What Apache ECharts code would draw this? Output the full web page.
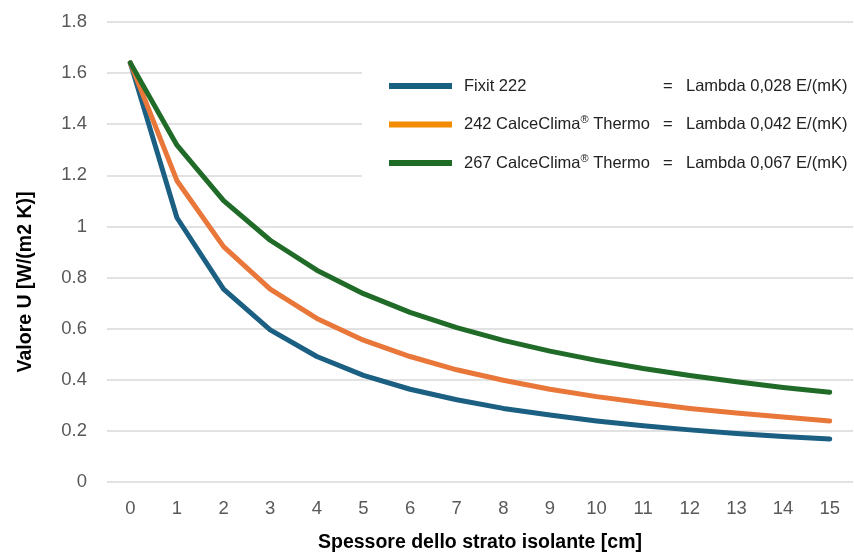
<!DOCTYPE html>
<html>
<head>
<meta charset="utf-8">
<script src="https://cdn.jsdelivr.net/npm/echarts@6/dist/echarts.min.js"></script>
<style>
html,body{margin:0;padding:0;background:#fff;overflow:hidden;}
#chart{width:854px;height:558px;}
</style>
</head>
<body>
<div id="chart"></div>
<script>
const categories = ['0','1','2','3','4','5','6','7','8','9','10','11','12','13','14','15'];
const fixit222 = [1.64, 1.034, 0.755, 0.595, 0.491, 0.417, 0.363, 0.322, 0.288, 0.262, 0.239, 0.220, 0.204, 0.190, 0.178, 0.168];
const calce242 = [1.64, 1.179, 0.921, 0.755, 0.640, 0.555, 0.491, 0.439, 0.398, 0.363, 0.334, 0.310, 0.288, 0.270, 0.254, 0.239];
const calce267 = [1.64, 1.318, 1.101, 0.946, 0.829, 0.737, 0.664, 0.604, 0.554, 0.512, 0.476, 0.444, 0.417, 0.392, 0.370, 0.351];
const seriesNames = ['Fixit 222', '242 CalceClima® Thermo', '267 CalceClima® Thermo'];
const lambdaLabels = ['Lambda 0,028 E/(mK)', 'Lambda 0,042 E/(mK)', 'Lambda 0,067 E/(mK)'];
const yTitle = 'Valore U [W/(m2 K)]';
const xTitle = 'Spessore dello strato isolante [cm]';

const lineColors = ['#1B5F82', '#E9773A', '#1F6B27'];
const legendColors = ['#18607F', '#F28C00', '#1E6B25'];
const FONT = '"Liberation Sans", Arial, Helvetica, sans-serif';
const LEG_SIZE = 16.5;
const SUP_SIZE = 11;

const cv = document.createElement('canvas');
const ctx = cv.getContext('2d');
function tw(t, size) { ctx.font = size + 'px ' + FONT; return ctx.measureText(t).width; }

const NAME_COL = 199;
const rich = {
  s: { width: 7, fontSize: LEG_SIZE, fontFamily: FONT },
  n: { fontSize: LEG_SIZE, fontFamily: FONT, color: '#222', lineHeight: 20 },
  r: { fontSize: SUP_SIZE, fontFamily: FONT, color: '#222', verticalAlign: 'top', lineHeight: 20, padding: [0, 0, 6, 0] },
  e: { width: 23, fontSize: LEG_SIZE, fontFamily: FONT, color: '#222', lineHeight: 20 },
  l: { fontSize: LEG_SIZE, fontFamily: FONT, color: '#222', lineHeight: 20 }
};
const legendText = seriesNames.map(function (nm, i) {
  const parts = nm.split('®');
  if (parts.length === 1) {
    rich['t' + i] = { width: NAME_COL, fontSize: LEG_SIZE, fontFamily: FONT, color: '#222', lineHeight: 20 };
    return '{s| }{t' + i + '|' + nm + '}{e|=}{l|' + lambdaLabels[i] + '}';
  }
  const w = NAME_COL - tw(parts[0], LEG_SIZE) - tw('®', SUP_SIZE);
  rich['t' + i] = { width: w, fontSize: LEG_SIZE, fontFamily: FONT, color: '#222', lineHeight: 20 };
  return '{s| }{n|' + parts[0] + '}{r|®}{t' + i + '|' + parts[1] + '}{e|=}{l|' + lambdaLabels[i] + '}';
});

const dataSets = [fixit222, calce242, calce267];

const chart = echarts.init(document.getElementById('chart'), null, { renderer: 'canvas' });
chart.setOption({
  animation: false,
  backgroundColor: '#fff',
  textStyle: { fontFamily: FONT },
  grid: { left: 107, right: 1, top: 22, bottom: 71, containLabel: false },
  legend: {
    orient: 'vertical',
    left: 362,
    top: 50,
    padding: [26, 10, 26, 27],
    itemGap: 18.5,
    itemWidth: 63,
    itemHeight: 6,
    icon: 'rect',
    backgroundColor: '#fff',
    selectedMode: false,
    data: seriesNames.map(function (nm, i) {
      return { name: nm, itemStyle: { color: legendColors[i], borderWidth: 0 } };
    }),
    formatter: function (name) { return legendText[seriesNames.indexOf(name)]; },
    textStyle: { fontSize: LEG_SIZE, fontFamily: FONT, color: '#222', lineHeight: 20, rich: rich }
  },
  xAxis: {
    type: 'category',
    data: categories,
    boundaryGap: true,
    axisLine: { show: false },
    axisTick: { show: false },
    axisLabel: { color: '#595959', fontSize: 18.5, fontFamily: FONT, margin: 17 },
    name: xTitle,
    nameLocation: 'middle',
    nameGap: 51,
    nameTextStyle: { fontSize: 19.5, fontWeight: 'bold', color: '#000', fontFamily: FONT }
  },
  yAxis: {
    type: 'value',
    min: 0,
    max: 1.8,
    interval: 0.2,
    axisLine: { show: false },
    axisTick: { show: false },
    axisLabel: { color: '#595959', fontSize: 18.5, fontFamily: FONT, margin: 20 },
    splitLine: { lineStyle: { color: '#D9D9D9', width: 1.5 } },
    name: yTitle,
    nameLocation: 'middle',
    nameRotate: 90,
    nameGap: 71,
    nameTextStyle: { fontSize: 19.5, fontWeight: 'bold', color: '#000', fontFamily: FONT, padding: [0, 60, 0, 0] }
  },
  series: dataSets.map(function (d, i) {
    return {
      name: seriesNames[i],
      type: 'line',
      data: d,
      symbol: 'none',
      smooth: false,
      color: lineColors[i],
      lineStyle: { color: lineColors[i], width: 5, cap: 'round', join: 'round' }
    };
  })
});
</script>
</body>
</html>
